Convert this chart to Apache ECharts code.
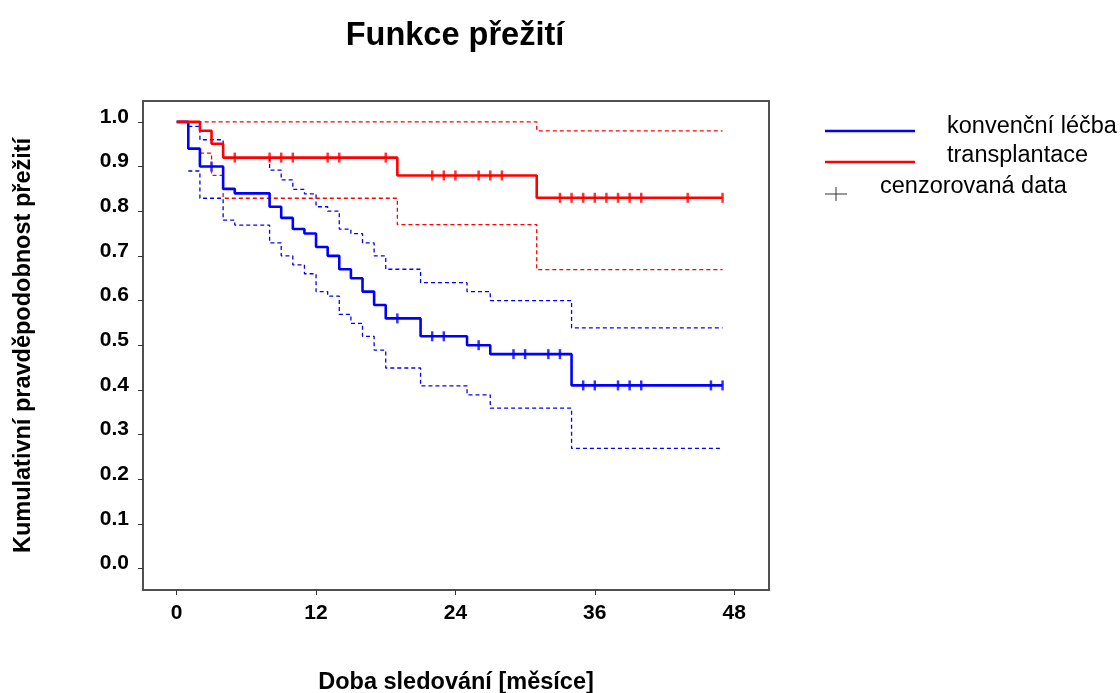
<!DOCTYPE html>
<html>
<head>
<meta charset="utf-8">
<script src="https://cdn.jsdelivr.net/npm/echarts@6/dist/echarts.min.js"></script>
<style>
  html, body { margin: 0; padding: 0; background: #fff; }
  #chart { width: 1120px; height: 693px; }
</style>
</head>
<body>
<div id="chart"></div>
<script>
// Kaplan-Meier data (months, survival)
const blueTimes = [0, 1, 2, 4, 5, 8, 9, 10, 11, 12, 13, 14, 15, 16, 17, 18, 21, 25, 27, 34, 47];
const blueSurv = [1.0, 0.94, 0.90, 0.85, 0.84, 0.81, 0.785, 0.76, 0.75, 0.72, 0.70, 0.67, 0.65, 0.62, 0.59, 0.56, 0.52, 0.50, 0.48, 0.41, 0.41];
const blueCiTimes = [1, 2, 4, 5, 8, 9, 10, 11, 12, 13, 14, 15, 16, 17, 18, 21, 25, 27, 34, 47];
const blueUpper = [0.99, 0.96, 0.92, 0.92, 0.892, 0.870, 0.849, 0.839, 0.810, 0.800, 0.760, 0.750, 0.729, 0.700, 0.670, 0.640, 0.620, 0.600, 0.539, 0.539];
const blueLower = [0.89, 0.829, 0.780, 0.769, 0.729, 0.700, 0.680, 0.660, 0.620, 0.610, 0.569, 0.549, 0.520, 0.489, 0.449, 0.409, 0.389, 0.359, 0.269, 0.269];
const blueCensor = [3, 19, 22, 23, 26, 29, 30, 32, 33, 35, 36, 38, 39, 40, 46, 47];

const redTimes = [0, 2, 3, 4, 19, 31, 47];
const redSurv = [1.0, 0.98, 0.951, 0.92, 0.88, 0.83, 0.83];
const redUpperTimes = [0, 31, 47];
const redUpper = [1.0, 0.98, 0.98];
const redLowerTimes = [2, 3, 4, 19, 31, 47];
const redLower = [0.93, 0.88, 0.829, 0.77, 0.669, 0.669];
const redCensor = [5, 8, 9, 10, 13, 14, 18, 22, 23, 24, 26, 27, 28, 33, 34, 35, 36, 37, 38, 39, 40, 44, 47];

const xTicks = [0, 12, 24, 36, 48];
const yTicks = [0, 0.1, 0.2, 0.3, 0.4, 0.5, 0.6, 0.7, 0.8, 0.9, 1.0];

const FONT = 'Liberation Sans, Arial, sans-serif';
const BLUE = '#0000ff';
const RED = '#ff0000';

function pairs(xs, ys) {
    return xs.map((x, i) => [x, ys[i]]);
}

// value of the step curve at time t
function survAt(times, surv, t) {
    let v = surv[0];
    for (let i = 0; i < times.length; i++) {
        if (times[i] <= t) v = surv[i];
    }
    return v;
}

function censorData(ct, times, surv) {
    return ct.map(t => [t, survAt(times, surv, t)]);
}

function ciLine(data, color) {
    return {
        type: 'line',
        step: 'end',
        data: data,
        symbol: 'none',
        silent: true,
        lineStyle: { color: color, width: 1.3, type: [4, 3] }
    };
}

function kmLine(data, color) {
    return {
        type: 'line',
        step: 'end',
        data: data,
        symbol: 'none',
        lineStyle: { color: color, width: 2.6 }
    };
}

function censorMarks(data, color) {
    return {
        type: 'scatter',
        data: data,
        symbol: 'rect',
        symbolSize: [2.5, 10],
        itemStyle: { color: color }
    };
}

const chart = echarts.init(document.getElementById('chart'));

const option = {
    animation: false,
    backgroundColor: '#fff',
    title: {
        text: 'Funkce přežití',
        left: 450,
        top: 15,
        textAlign: 'center',
        textStyle: { fontFamily: FONT, fontSize: 32.5, fontWeight: 'bold', color: '#000' }
    },
    grid: {
        left: 143,
        top: 101,
        right: 351,
        bottom: 103,
        outerBoundsMode: 'none',
        containLabel: false,
        show: true,
        borderColor: '#505050',
        borderWidth: 2,
        backgroundColor: '#fff'
    },
    xAxis: {
        type: 'value',
        min: -2.9,
        max: 51.0,
        splitLine: { show: false },
        axisLine: { show: false, onZero: false },
        axisTick: { show: true, length: 5, customValues: xTicks, lineStyle: { color: '#333', width: 1 } },
        axisLabel: {
            customValues: xTicks,
            margin: 13,
            fontFamily: FONT, fontSize: 21, fontWeight: 'bold', color: '#000'
        },
        name: 'Doba sledování [měsíce]',
        nameLocation: 'middle',
        nameGap: 81,
        nameTextStyle: { fontFamily: FONT, fontSize: 23.5, fontWeight: 'bold', color: '#000' }
    },
    yAxis: {
        type: 'value',
        min: -0.048,
        max: 1.0467,
        splitLine: { show: false },
        axisLine: { show: false, onZero: false },
        axisTick: { show: true, length: 5, customValues: yTicks, lineStyle: { color: '#333', width: 1 } },
        axisLabel: {
            customValues: yTicks,
            margin: 14,
            verticalAlign: 'bottom',
            lineHeight: 10,
            formatter: v => v.toFixed(1),
            fontFamily: FONT, fontSize: 21, fontWeight: 'bold', color: '#000'
        },
        name: 'Kumulativní pravděpodobnost přežití',
        nameLocation: 'middle',
        nameGap: 107,
        nameTextStyle: { fontFamily: FONT, fontSize: 23.5, fontWeight: 'bold', color: '#000' }
    },
    series: [
        ciLine(pairs(blueCiTimes, blueUpper), BLUE),
        ciLine(pairs(blueCiTimes, blueLower), BLUE),
        ciLine(pairs(redUpperTimes, redUpper), RED),
        ciLine(pairs(redLowerTimes, redLower), RED),
        kmLine(pairs(blueTimes, blueSurv), BLUE),
        kmLine(pairs(redTimes, redSurv), RED),
        censorMarks(censorData(blueCensor, blueTimes, blueSurv), BLUE),
        censorMarks(censorData(redCensor, redTimes, redSurv), RED)
    ],
    graphic: [
        { type: 'line', shape: { x1: 825, y1: 131, x2: 915, y2: 131 }, style: { stroke: BLUE, lineWidth: 2.5 } },
        { type: 'line', shape: { x1: 825, y1: 162, x2: 915, y2: 162 }, style: { stroke: RED, lineWidth: 2.5 } },
        { type: 'line', shape: { x1: 825, y1: 194, x2: 847, y2: 194 }, style: { stroke: '#333', lineWidth: 1 } },
        { type: 'line', shape: { x1: 836, y1: 187, x2: 836, y2: 201 }, style: { stroke: '#333', lineWidth: 1 } },
        { type: 'text', left: 947, top: 115, style: { text: 'konvenční léčba', fontFamily: FONT, fontSize: 23.5, fill: '#000' } },
        { type: 'text', left: 947, top: 144, style: { text: 'transplantace', fontFamily: FONT, fontSize: 23.5, fill: '#000' } },
        { type: 'text', left: 880, top: 175, style: { text: 'cenzorovaná data', fontFamily: FONT, fontSize: 23.5, fill: '#000' } }
    ]
};

chart.setOption(option);
</script>
</body>
</html>
